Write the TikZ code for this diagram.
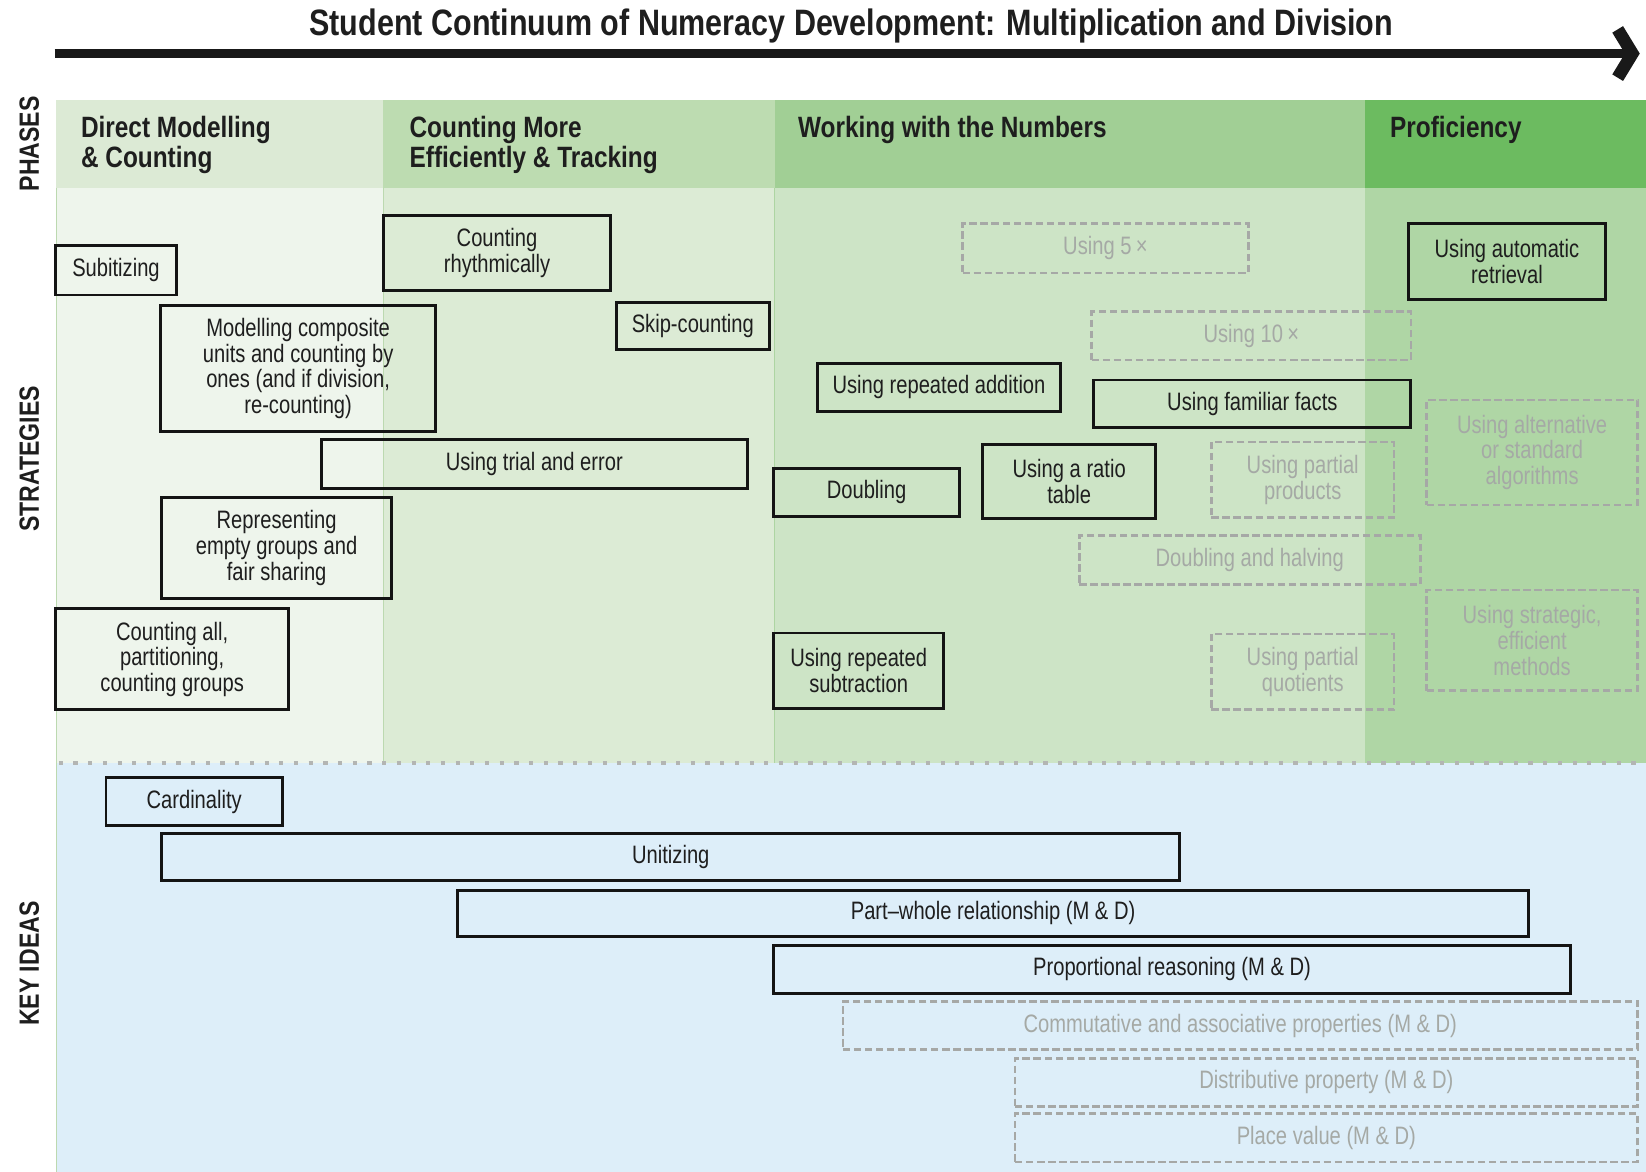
\documentclass[tikz,border=0pt]{standalone}
\usepackage{fontspec}
\setmainfont{Liberation Sans}
\newfontfamily\bodyfont{Liberation Sans}[FakeStretch=0.8]
\newfontfamily\boldfont{Liberation Sans}[FakeStretch=0.83]
\definecolor{hOne}{HTML}{DCEAD5}
\definecolor{bOne}{HTML}{EEF5EC}
\definecolor{hTwo}{HTML}{BDDCB1}
\definecolor{bTwo}{HTML}{DCEBD5}
\definecolor{hThree}{HTML}{A1CF95}
\definecolor{bThree}{HTML}{CDE4C6}
\definecolor{hFour}{HTML}{6CBB60}
\definecolor{bFour}{HTML}{AFD6A5}
\definecolor{keyblue}{HTML}{DDEEF9}
\definecolor{dashgray}{HTML}{A6A8A6}
\definecolor{dashtext}{HTML}{A5A9A5}
\definecolor{inktext}{HTML}{1E1E1E}
\definecolor{edgegreen}{HTML}{BCD9B0}
\tikzset{
  sbox/.style={draw=black!92, line width=2.8pt, align=center, inner sep=0pt,
    font=\bodyfont\fontsize{24}{24.5}\selectfont, text=inktext},
  dbox/.style={draw=dashgray, line width=2.6pt, dash pattern=on 7pt off 3.5pt,
    align=center, inner sep=0pt, font=\bodyfont\fontsize{24}{24.5}\selectfont, text=dashtext},
  phasetext/.style={anchor=base west, inner sep=0pt, font=\boldfont\bfseries\fontsize{28}{29}\selectfont, text=inktext},
  sidelabel/.style={rotate=90, inner sep=0pt, font=\boldfont\bfseries\fontsize{26.5}{28}\selectfont, text=inktext},
}
\begin{document}
\begin{tikzpicture}[x=1pt,y=-1pt]
\useasboundingbox (0,0) rectangle (1568,1116);
\fill[white] (0,0) rectangle (1568,1116);
% phase headers
\fill[hOne] (53,95) rectangle (365,179);
\fill[hTwo] (365,95) rectangle (738,179);
\fill[hThree] (738,95) rectangle (1300,179);
\fill[hFour] (1300,95) rectangle (1568,179);
% strategy bodies
\fill[bOne] (53,179) rectangle (365,727);
\fill[bTwo] (365,179) rectangle (738,727);
\fill[bThree] (738,179) rectangle (1300,727);
\fill[bFour] (1300,179) rectangle (1568,727);
% key ideas
\fill[keyblue] (53,727) rectangle (1568,1116);
\draw[edgegreen, line width=1.2pt] (53.6,179) -- (53.6,1116);
\draw[edgegreen, line width=1.2pt] (365,179) -- (365,727);
\draw[hThree!80!bTwo, line width=1.2pt] (738,179) -- (738,727);
\draw[dashgray!85, line width=4pt, dash pattern=on 4pt off 10pt] (56,727) -- (1568,727);
% title and arrow
\node[anchor=base, inner sep=0pt, font=\boldfont\bfseries\fontsize{35}{38}\selectfont, text=inktext] (title) at (811,34) {Student Continuum of Numeracy Development: Multiplication and Division};
\coordinate (arrstart) at (52,51);
\coordinate (arrtip) at (1555,51);
\draw[line width=9pt, black!90] (arrstart) -- (arrtip);
\draw[line width=12pt, black!90, miter limit=10] (1541,28) -- (arrtip) -- (1541,74);
% side labels
\node[sidelabel] (lphases) at (28,137) {PHASES};
\node[sidelabel] (lstrat) at (28,437) {STRATEGIES};
\node[sidelabel] (lkey) at (28,918) {KEY IDEAS};
% phase names
\node[phasetext] (p1a) at (77,131) {Direct Modelling};
\node[phasetext] (p1b) at (77,160) {\& Counting};
\node[phasetext] (p2a) at (390,131) {Counting More};
\node[phasetext] (p2b) at (390,160) {Efficiently \& Tracking};
\node[phasetext] (p3a) at (760,131) {Working with the Numbers};
\node[phasetext] (p4a) at (1324,131) {Proficiency};
% strategies (solid)
\node[sbox, minimum width=115pt, minimum height=47pt] (sub) at (110.5,257.5) {Subitizing};
\node[sbox, minimum width=217pt, minimum height=72pt] (rhy) at (473.5,241) {Counting\\rhythmically};
\node[sbox, minimum width=262pt, minimum height=120pt] (mod) at (284,351) {Modelling composite\\units and counting by\\ones (and if division,\\re-counting)};
\node[sbox, minimum width=146pt, minimum height=45pt] (skip) at (660,310.5) {Skip-counting};
\node[sbox, minimum width=406pt, minimum height=46pt] (trial) at (509,442) {Using trial and error};
\node[sbox, minimum width=219pt, minimum height=96pt] (rep) at (263.5,522) {Representing\\empty groups and\\fair sharing};
\node[sbox, minimum width=222pt, minimum height=96pt] (call) at (164,628) {Counting all,\\partitioning,\\counting groups};
\node[sbox, minimum width=231pt, minimum height=46pt] (radd) at (894.5,369) {Using repeated addition};
\node[sbox, minimum width=302pt, minimum height=45pt] (fam) at (1193,384.5) {Using familiar facts};
\node[sbox, minimum width=177pt, minimum height=46pt] (dbl) at (825.5,469) {Doubling};
\node[sbox, minimum width=165pt, minimum height=71pt] (ratio) at (1018.5,458.5) {Using a ratio\\table};
\node[sbox, minimum width=162pt, minimum height=72pt] (rsub) at (818,639) {Using repeated\\subtraction};
\node[sbox, minimum width=187pt, minimum height=72pt] (auto) at (1435.5,249) {Using automatic\\retrieval};
% strategies (dashed)
\node[dbox, minimum width=272pt, minimum height=47pt] (u5) at (1053,236.5) {Using 5\,×};
\node[dbox, minimum width=304pt, minimum height=46pt] (u10) at (1192,320) {Using 10\,×};
\node[dbox, minimum width=174pt, minimum height=72pt] (pp) at (1241,457) {Using partial\\products};
\node[dbox, minimum width=325pt, minimum height=47pt] (dh) at (1190.5,533.5) {Doubling and halving};
\node[dbox, minimum width=174pt, minimum height=72pt] (pq) at (1241,640) {Using partial\\quotients};
\node[dbox, minimum width=201pt, minimum height=100pt] (alg) at (1459.5,431) {Using alternative\\or standard\\algorithms};
\node[dbox, minimum width=201pt, minimum height=96pt] (strat) at (1459.5,610) {Using strategic,\\efficient\\methods};
% key ideas
\node[sbox, minimum width=168pt, minimum height=45pt] (card) at (185,763.5) {Cardinality};
\node[sbox, minimum width=970pt, minimum height=45pt] (unit) at (639,816.5) {Unitizing};
\node[sbox, minimum width=1020pt, minimum height=44pt] (pw) at (946,870) {Part–whole relationship (M \& D)};
\node[sbox, minimum width=759pt, minimum height=45pt] (prop) at (1116.5,923.5) {Proportional reasoning (M \& D)};
\node[dbox, minimum width=757pt, minimum height=46pt] (comm) at (1181.5,977) {Commutative and associative properties (M \& D)};
\node[dbox, minimum width=593pt, minimum height=46pt] (dist) at (1263.5,1031) {Distributive property (M \& D)};
\node[dbox, minimum width=593pt, minimum height=46pt] (pv) at (1263.5,1084) {Place value (M \& D)};
\end{tikzpicture}
\end{document}
